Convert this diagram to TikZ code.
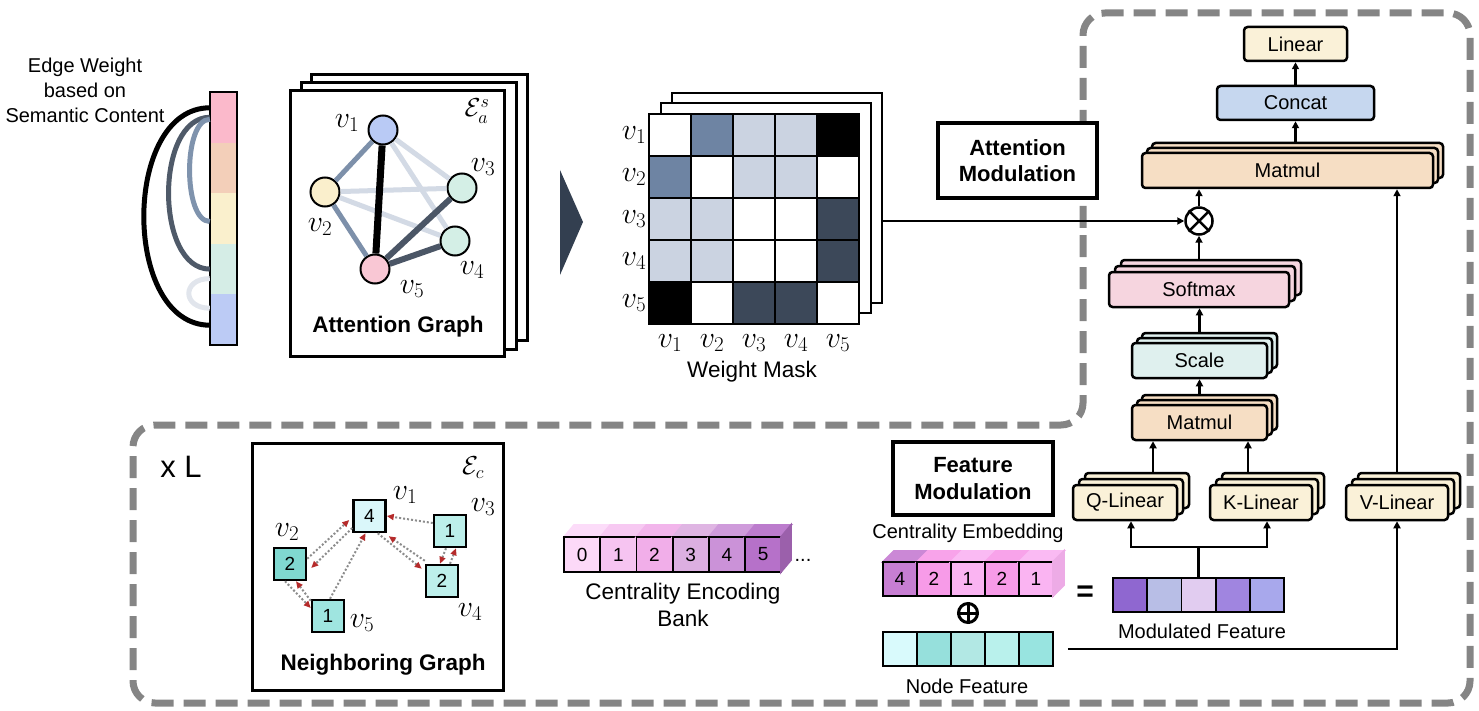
\documentclass[tikz,border=0pt]{standalone}
\usepackage{fix-cm}
\usepackage{fontspec}
\setmainfont{Liberation Sans}
\usetikzlibrary{arrows.meta,calc}
\definecolor{dashgray}{HTML}{858585}
\definecolor{bar1}{HTML}{FBB9CB}
\definecolor{bar2}{HTML}{F3CFB9}
\definecolor{bar3}{HTML}{FAF0CD}
\definecolor{bar4}{HTML}{D5EDE6}
\definecolor{bar5}{HTML}{BCCBF5}
\definecolor{ewdark}{HTML}{4F5A69}
\definecolor{ewmid}{HTML}{7F93AD}
\definecolor{ewlight}{HTML}{E1E5EC}
\definecolor{agmid}{HTML}{7D90AA}
\definecolor{agdark}{HTML}{4B5666}
\definecolor{aglight}{HTML}{D3DAE5}
\definecolor{nv1}{HTML}{B9CAF5}
\definecolor{nv2}{HTML}{FAEFCC}
\definecolor{nv3}{HTML}{D4EFE6}
\definecolor{nv5}{HTML}{F9C7D4}
\definecolor{chev}{HTML}{333F50}
\definecolor{mw}{HTML}{FFFFFF}
\definecolor{mk}{HTML}{000000}
\definecolor{mb}{HTML}{6E84A3}
\definecolor{ml}{HTML}{CBD3E1}
\definecolor{md}{HTML}{3C4859}
\definecolor{cream}{HTML}{FAF1D8}
\definecolor{concat}{HTML}{C6D7EF}
\definecolor{peach}{HTML}{F6DEC4}
\definecolor{softpink}{HTML}{F6D5DF}
\definecolor{scaleteal}{HTML}{DFF0EE}
\definecolor{dotgray}{HTML}{8C8C8C}
\definecolor{arrred}{HTML}{B52B2B}
\definecolor{g1}{HTML}{DAF7FA}
\definecolor{g2}{HTML}{80D8D0}
\definecolor{g3}{HTML}{BCEFEA}
\definecolor{g4}{HTML}{BDEFEB}
\definecolor{g5}{HTML}{9FE5E0}
\definecolor{cb0}{HTML}{FCD9F8}
\definecolor{cb1}{HTML}{F6C4F1}
\definecolor{cb2}{HTML}{F1AEE9}
\definecolor{cb3}{HTML}{DCAFE1}
\definecolor{cb4}{HTML}{CB92D8}
\definecolor{cb5}{HTML}{B671C9}
\definecolor{ce4}{HTML}{C77ED2}
\definecolor{ce2}{HTML}{F79BE8}
\definecolor{ce1}{HTML}{FAB4F2}
\definecolor{mf1}{HTML}{8F67D0}
\definecolor{mf2}{HTML}{B8BEE6}
\definecolor{mf3}{HTML}{E1CCF0}
\definecolor{mf4}{HTML}{A085E0}
\definecolor{mf5}{HTML}{A8A8EC}
\definecolor{nf1}{HTML}{D9FAFC}
\definecolor{nf2}{HTML}{96E0DC}
\definecolor{nf3}{HTML}{B2E8E4}
\definecolor{nf4}{HTML}{B9F1EC}
\definecolor{nf5}{HTML}{98E4E0}
\tikzset{
 txt/.style={font=\fontsize{20}{25}\selectfont, inner sep=0},
 ltxt/.style={font=\fontsize{22.5}{27}\selectfont, inner sep=0},
 btxt/.style={font=\bfseries\fontsize{22.5}{27}\selectfont, inner sep=0},
 mlab/.style={font=\fontsize{30}{30}\selectfont, inner sep=0},
 elab/.style={font=\fontsize{26}{26}\selectfont, inner sep=0},
 box/.style={draw, line width=2.5, rounded corners=3.5, inner sep=0, font=\fontsize{20}{20}\selectfont},
 arr/.style={line width=2.5, -{Triangle[length=7pt,width=7pt]}},
 conn/.style={line width=2.5},
 dashout/.style={draw=dashgray, line width=7, dash pattern=on 22pt off 10pt, rounded corners=22},
 nb/.style={draw=dotgray, line width=2, dash pattern=on 2pt off 2pt, -{Triangle[length=7pt,width=6pt,color=arrred]}},
 cell/.style={draw, line width=1.8, inner sep=0, font=\fontsize{19}{19}\selectfont},
 gnode/.style={circle, draw, line width=2, minimum size=29, inner sep=0},
 sq/.style={draw, line width=2.5, minimum size=32, inner sep=0, font=\fontsize{19}{19}\selectfont},
 frame/.style={draw, line width=3, fill=white},
}
\newcommand\mystk[8]{%
  \foreach \kk in {2,1}{\draw[line width=2.5, rounded corners=3.5, fill=#6] (#2-#4/2+#7*\kk, #3-#5/2-#7*\kk) rectangle ++(#4,#5);}
  \node[box, fill=#6, minimum width=#4, minimum height=#5] (#1) at (#2,#3) {#8};
}
\begin{document}
\begin{tikzpicture}[x=1pt,y=-1pt]
\path[use as bounding box] (0,0) rectangle (1479,711);

% dashed outline
\draw[dashout] (1083,250) -- (1083,13) -- (1470,13) -- (1470,703) -- (133,703) -- (133,425) -- (1083,425) -- cycle;

% ---- edge weight bar
\node[txt, align=center] (ewt) at (85,90) {Edge Weight\\based on\\Semantic Content};
\foreach \cc [count=\ii] in {bar1,bar2,bar3,bar4,bar5}
  \node[fill=\cc, minimum width=27, minimum height=50.6, inner sep=0] (b\ii) at (223.5, 92+25.3+\ii*50.6-50.6) {};
\draw[line width=2] (b1.north west) rectangle (b5.south east);
\draw[line width=5, ewlight] ([yshift=-9.5]b4.west) .. controls +(-28,0) and +(-28,0) .. ([yshift=11.5]b5.west);
\draw[line width=5, ewdark] (b1.west) .. controls +(-55,0) and +(-55,0) .. (b4.west);
\draw[line width=5, ewmid] ([yshift=-2]b1.west) .. controls +(-27,0) and +(-27,0) .. ([yshift=-3]b3.west);
\draw[line width=5, black] ([yshift=9.5]b1.west) .. controls +(-88,0) and +(-88,0) .. ([yshift=-5.5]b5.west);

% ---- attention graph
\draw[frame] (311,75) rectangle (527,340);
\draw[frame] (301,83) rectangle (516,349);
\draw[frame] (290,91) rectangle (504,356);
\node[gnode, fill=nv1] (a1) at (383,130) {};
\node[gnode, fill=nv2] (a2) at (325,192) {};
\node[gnode, fill=nv3] (a3) at (462,188) {};
\node[gnode, fill=nv3] (a4) at (455,241) {};
\node[gnode, fill=nv5] (a5) at (375,269) {};
\draw[line width=5, aglight] (a1) -- (a3);
\draw[line width=5, aglight] (a1) -- (a4);
\draw[line width=5, aglight] (a2) -- (a3);
\draw[line width=5, aglight] (a2) -- (a4);
\draw[line width=5, agmid] (a1) -- (a2);
\draw[line width=5, agmid] (a2) -- (a5);
\draw[line width=6, agdark] (a3) -- (a5);
\draw[line width=6, agdark] (a4) -- (a5);
\draw[line width=7, black] (a1) -- (a5);
\node[mlab] (la1) at (347,123) {$v_1$};
\node[mlab] (la2) at (320,227) {$v_2$};
\node[mlab] (la3) at (483,167) {$v_3$};
\node[mlab] (la4) at (472,270) {$v_4$};
\node[mlab] (la5) at (412,289) {$v_5$};
\node[elab] (lea) at (477,111) {$\mathcal{E}_a^s$};
\node[btxt] (agt) at (398,327) {Attention Graph};

% chevron
\fill[chev] (560,170) -- (583,222) -- (560,275) -- cycle;

% ---- weight mask
\node[draw, fill=white, line width=2.2, minimum width=210, minimum height=210, inner sep=0] (wm3) at (777,198) {};
\node[draw, fill=white, line width=2.2, minimum width=210, minimum height=210, inner sep=0] (wm2) at (766,208) {};
\foreach \row [count=\rr from 0] in {{mw,mb,ml,ml,mk},{mb,mw,ml,ml,mw},{ml,ml,mw,mw,md},{ml,ml,mw,mw,md},{mk,mw,md,md,mw}} {
  \foreach \cc [count=\qq from 0] in \row {
    \draw[line width=2, fill=\cc] (649+\qq*42, 114+\rr*42) rectangle ++(42,42);
  }
}
\node[draw, line width=2.5, minimum width=210, minimum height=210, inner sep=0] (wm1) at (754,219) {};
\foreach \ii in {1,...,5} {
  \node[mlab] (wr\ii) at (634, 135+\ii*42-42) {$v_{\ii}$};
  \node[mlab] (wc\ii) at (670+\ii*42-42, 343) {$v_{\ii}$};
}
\node[ltxt] (wmt) at (752,372) {Weight Mask};

% ---- attention modulation
\node[draw, fill=white, line width=4, minimum width=159, minimum height=75, inner sep=0, align=center, font=\bfseries\fontsize{22}{26}\selectfont] (am) at (1017.5,160.5) {Attention\\Modulation};

% ---- right column
\mystk{mmt}{1287.5}{170.5}{291}{35}{peach}{5}{Matmul}
\node[box, fill=concat, minimum width=157, minimum height=34] (cat) at (1295.5,103) {Concat};
\node[box, fill=cream, minimum width=103, minimum height=34] (lin) at (1295.5,44) {Linear};
\mystk{smx}{1199}{289.5}{180}{35}{softpink}{6}{Softmax}
\mystk{scl}{1199.5}{360.5}{135}{35}{scaleteal}{5}{Scale}
\mystk{mmb}{1199.5}{422.5}{135}{35}{peach}{5}{Matmul}
\mystk{ql}{1125}{502.5}{104}{35}{cream}{6}{Q-Linear}
\mystk{kl}{1261}{502.5}{102}{35}{cream}{6}{K-Linear}
\mystk{vl}{1397}{502.5}{102}{35}{cream}{6}{V-Linear}
\node[circle, draw, line width=2.5, minimum size=27, inner sep=0, fill=white] (ox) at (1199,221) {};
\draw[line width=2.5] (ox.north west) -- (ox.south east) (ox.north east) -- (ox.south west);

\draw[arr] (wm3.east |- ox.west) -- (ox.west);
\draw[arr] (ox.north) -- (ox.north |- mmt.south);
\draw[arr] ([yshift=10]mmt.north -| cat.south) -- (cat.south);
\draw[arr] (cat.north) -- (lin.south);
\draw[arr] ([yshift=12]smx.north) -- (ox.south);
\draw[arr] ([yshift=10]scl.north) -- (scl.north |- smx.south);
\draw[arr] ([yshift=10]mmb.north) -- (scl.south);
\draw[arr] ([xshift=28,yshift=12]ql.north) -- ([xshift=28]ql.north |- mmb.south);
\draw[arr] ([xshift=-13,yshift=12]kl.north) -- ([xshift=-13]kl.north |- mmb.south);
\draw[arr] ([yshift=12]vl.north) -- (vl.north |- mmt.south);

% ---- feature modulation
\node[draw, fill=white, line width=4, minimum width=160, minimum height=73, inner sep=0, align=center, font=\bfseries\fontsize{22}{27}\selectfont] (fm) at (973,478.5) {Feature\\Modulation};
\node[txt] (cet) at (968,533) {Centrality Embedding};
\foreach \nn/\cc [count=\ii from 0] in {4/ce4,2/ce2,1/ce1,2/ce2,1/ce1} {
  \fill[\cc!92!white, draw, line width=1.8] (883+\ii*34, 562) -- ++(11,-11) -- ++(34,0) -- ++(-11,11) -- cycle;
  \node[cell, fill=\cc, minimum width=34, minimum height=34] (ce\ii) at (883+\ii*34+17, 579) {\nn};
}
\fill[ce1!95!black, draw, line width=1.8] (1053,562) -- ++(11,-11) -- ++(0,34) -- ++(-11,11) -- cycle;
\node[circle, draw, line width=3, minimum size=19, inner sep=0] (op) at (968,613) {};
\draw[line width=3] (op.north) -- (op.south) (op.west) -- (op.east);
\foreach \cc [count=\ii] in {nf1,nf2,nf3,nf4,nf5}
  \node[cell, fill=\cc, minimum width=34, minimum height=34] (nf\ii) at (883+\ii*34-17, 649) {};
\node[txt] (nft) at (967,686) {Node Feature};
\node[font=\bfseries\fontsize{30}{30}\selectfont, inner sep=0] (eq) at (1085,594) {=};
\foreach \cc [count=\ii] in {mf1,mf2,mf3,mf4,mf5}
  \node[cell, fill=\cc, minimum width=34.2, minimum height=34] (mf\ii) at (1113+\ii*34.2-17.1, 595) {};
\node[txt] (mft) at (1202,631) {Modulated Feature};
\draw[conn] (mf3.north) -- ++(0,-30) coordinate (fork);
\draw[arr] (fork) -| ([xshift=6]ql.south);
\draw[arr] (fork) -| ([xshift=6]kl.south);
\draw[arr] ([xshift=14]nf5.east) -| (vl.south);

% ---- centrality encoding bank
\foreach \cc [count=\ii from 0] in {cb0,cb1,cb2,cb3,cb4,cb5} {
  \fill[\cc!92!white, draw, line width=1.8] (564+\ii*36.2, 537) -- ++(10,-12) -- ++(36.2,0) -- ++(-10,12) -- cycle;
  \node[cell, fill=\cc, minimum width=36.2, minimum height=35] (bk\ii) at (564+\ii*36.2+18.1, 554.5) {\ii};
}
\fill[cb5!85!black, draw, line width=1.8] (781,537) -- ++(10,-12) -- ++(0,35) -- ++(-10,12) -- cycle;
\node[font=\fontsize{20}{20}\selectfont, inner sep=0] (dots) at (803,560) {...};
\node[ltxt, align=center] (cbt) at (683,605) {Centrality Encoding\\Bank};

% ---- neighboring graph
\node[font=\fontsize{31}{31}\selectfont, inner sep=0] (xl) at (181,467) {x L};
\draw[line width=3] (252,443) rectangle (503,690);
\node[sq, fill=g1] (n1) at (369.5,516) {4};
\node[sq, fill=g2] (n2) at (290,564) {2};
\node[sq, fill=g3] (n3) at (450,531) {1};
\node[sq, fill=g4] (n4) at (442,581) {2};
\node[sq, fill=g5] (n5) at (328,616) {1};
\node[mlab] (ln1) at (405,495) {$v_1$};
\node[mlab] (ln2) at (287,532) {$v_2$};
\node[mlab] (ln3) at (483,507) {$v_3$};
\node[mlab] (ln4) at (470,612) {$v_4$};
\node[mlab] (ln5) at (362,623) {$v_5$};
\node[elab] (lec) at (473,468) {$\mathcal{E}_c$};
\node[btxt] (ngt) at (383,665) {Neighboring Graph};
\draw[nb] ([yshift=8]n3.west) -- (n1.east);
\draw[nb] ([xshift=2]n5.north) -- ([xshift=-4]n1.south);
\draw[nb] ([yshift=-12]n2.north east) -- ([xshift=-3,yshift=-4]n1.west);
\draw[nb] ([yshift=-12]n1.west) -- ([xshift=4,yshift=-4]n2.east);
\draw[nb] ([yshift=3]n4.north west) -- ([xshift=2,yshift=-3]n1.south east);
\draw[nb] ([xshift=-9]n1.south east) -- ([xshift=-3,yshift=-5]n4.north west);
\draw[nb] ([xshift=-4]n3.south) -- ([xshift=-2]n4.north);
\draw[nb] ([xshift=8]n4.north) -- ([xshift=6]n3.south);
\draw[nb] ([xshift=-5]n2.south) -- ([yshift=8]n5.west);
\draw[nb] ([yshift=-2]n5.north west) -- ([xshift=6]n2.south);
\end{tikzpicture}
\end{document}
